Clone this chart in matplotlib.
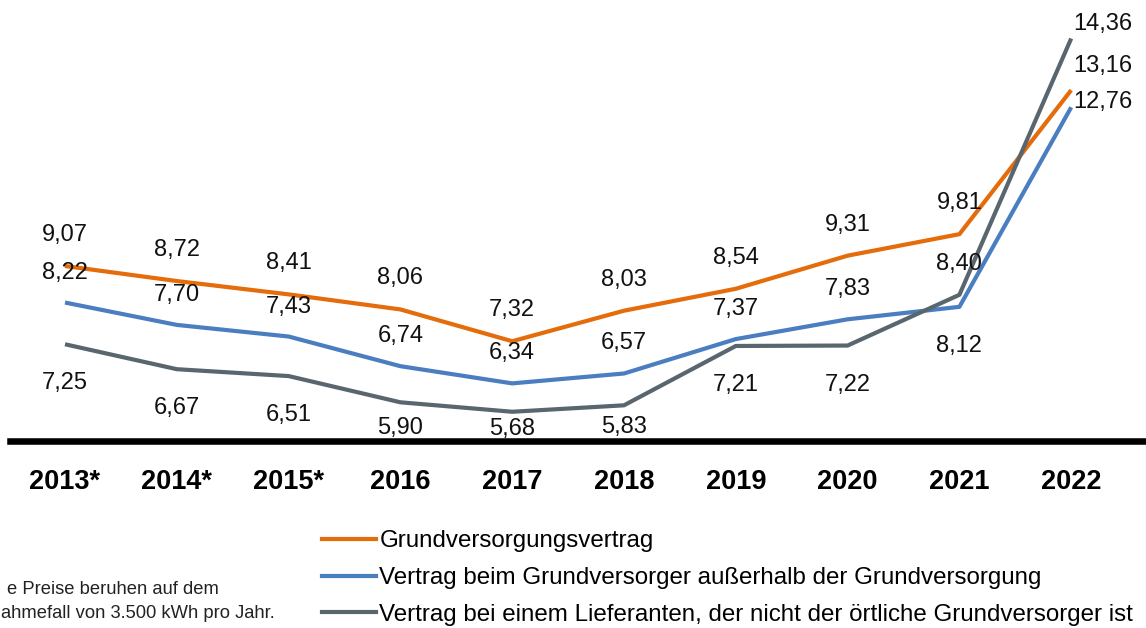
import matplotlib
matplotlib.use("Agg")
import matplotlib.pyplot as plt
from matplotlib.lines import Line2D

plt.rcParams["font.family"] = ["Liberation Sans", "DejaVu Sans"]

# Strompreise in ct/kWh
years = ["2013*", "2014*", "2015*", "2016", "2017", "2018", "2019", "2020", "2021", "2022"]
grundversorgung = [9.07, 8.72, 8.41, 8.06, 7.32, 8.03, 8.54, 9.31, 9.81, 13.16]
ausserhalb = [8.22, 7.70, 7.43, 6.74, 6.34, 6.57, 7.37, 7.83, 8.12, 12.76]
lieferant = [7.25, 6.67, 6.51, 5.90, 5.68, 5.83, 7.21, 7.22, 8.40, 14.36]

series_names = [
    "Grundversorgungsvertrag",
    "Vertrag beim Grundversorger außerhalb der Grundversorgung",
    "Vertrag bei einem Lieferanten, der nicht der örtliche Grundversorger ist",
]
colors = ["#E46C0A", "#4A7EC1", "#5A666D"]
footnote = ["e Preise beruhen auf dem", "ahmefall von 3.500 kWh pro Jahr."]

# label offsets in pixels (dx, dy); the last point of each series sits right of the line end
offsets = [
    [(0, 31)] * 9 + [(2, 24)],
    [(0, 30)] * 8 + [(0, -39), (2, 5)],
    [(0, -39)] * 3 + [(0, -26), (0, -17), (0, -22), (0, -39), (0, -39), (0, 31), (2, 15)],
]

W, H = 1146, 628
fig = plt.figure(figsize=(W / 100, H / 100), dpi=100)
ax = fig.add_axes([10 / W, (H - 441) / H, 1136 / W, 441 / H])

x = list(range(len(years)))
for values, color, offs in zip([grundversorgung, ausserhalb, lieferant], colors, offsets):
    ax.plot(x, values, color=color, linewidth=3, solid_capstyle="butt", solid_joinstyle="round")
    for i, (v, (dx, dy)) in enumerate(zip(values, offs)):
        last = i == len(values) - 1
        ax.annotate(f"{v:.2f}".replace(".", ","), (i, v), xytext=(dx, dy),
                    textcoords="offset pixels", ha="left" if last else "center",
                    va="center", fontsize=17, color="#111111", annotation_clip=False)

ax.set_xlim(-55 / 111.8, (1146 - 65) / 111.8)
ax.set_ylim(5, 5 + 441 / 43)
ax.set_xticks(x)
ax.set_xticklabels(years, fontsize=19.5, fontweight="bold")
ax.tick_params(axis="x", length=0, pad=20)
ax.set_yticks([])
for side in ["top", "left", "right"]:
    ax.spines[side].set_visible(False)
ax.spines["bottom"].set_linewidth(4.7)
ax.spines["bottom"].set_color("black")

handles = [Line2D([], [], color=c, linewidth=3) for c in colors]
fig.legend(handles, series_names, loc="center left",
           bbox_to_anchor=(322 / W, 1 - 578 / H), frameon=False, fontsize=17.4,
           handlelength=2.22, handletextpad=0.15, labelspacing=0.6,
           borderpad=0, borderaxespad=0)

fig.text(7 / W, 1 - 594 / H, footnote[0], ha="left", va="baseline",
         fontsize=13.2, color="#222222")
fig.text(1 / W, 1 - 618 / H, footnote[1], ha="left", va="baseline",
         fontsize=13.2, color="#222222")

fig.savefig("out.png", dpi=100)
